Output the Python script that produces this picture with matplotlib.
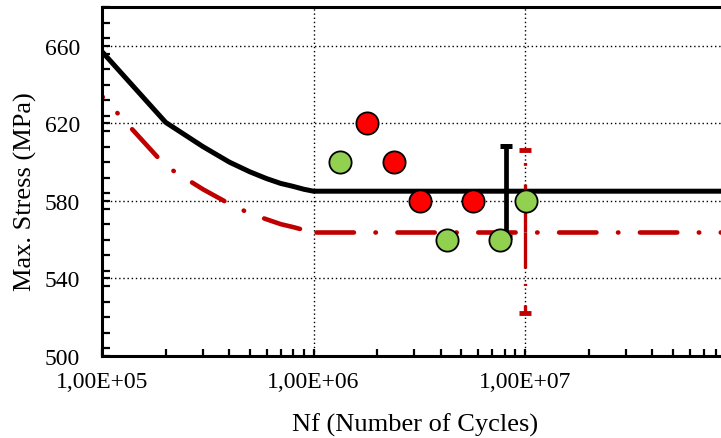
import matplotlib
matplotlib.use("Agg")
import matplotlib.pyplot as plt
from matplotlib.ticker import FixedLocator, FixedFormatter, MultipleLocator, LogLocator, NullFormatter

plt.rcParams['font.family'] = ['Liberation Serif', 'DejaVu Serif']
plt.rcParams['lines.scale_dashes'] = False

# ---- data ----
cycles_curve = [1e5, 2e5, 3e5, 4e5, 5e5, 6e5, 7e5, 8e5, 9e5, 1e6, 1e8]
stress_mean = [657, 620.5, 608, 600, 595, 591.5, 589, 587.5, 586, 585, 585]
stress_design = [634, 598, 586, 578.5, 573.5, 570.5, 568, 566.5, 565, 564, 564]

red_x = [1.79e6, 2.39e6, 3.19e6, 5.68e6]
red_y = [620, 600, 580, 580]
green_x = [1.34e6, 4.26e6, 7.62e6, 1.01e7]
green_y = [600, 560, 560, 580]

black_err_x = 8.1e6
black_err_y = 585
black_err = 23.5
red_err_x = 1e7
red_err_y = 564
red_err = 42

xtick_vals = [1e5, 1e6, 1e7]
xtick_labels = ['1,00E+05', '1,00E+06', '1,00E+07']
yticks = [500, 540, 580, 620, 660]

BLACK = '#000000'
DARKRED = '#C00000'
RED = '#FF0000'
GREEN = '#92D050'

fig = plt.figure(figsize=(7.21, 4.39), dpi=100)
ax = fig.add_axes([102/721, 82/439, 634.5/721, 349/439])

ax.set_xscale('log')
ax.set_xlim(1e5, 1e8)
ax.set_ylim(500, 680)

# curves
ax.plot(cycles_curve, stress_mean, color=BLACK, lw=3.6, zorder=3, solid_capstyle='butt')
knee = stress_design.index(min(stress_design))  # start of flat part
ax.plot(cycles_curve[:knee + 1], stress_design[:knee + 1], color=DARKRED, lw=3.3, zorder=2,
        linestyle=(26.0, (26.9, 15.5, 0.3, 15.5)), dash_capstyle='round')
ax.plot(cycles_curve[knee:], stress_design[knee:], color=DARKRED, lw=3.3, zorder=2,
        linestyle=(-1.5, (26.9, 15.5, 0.3, 15.5)), dash_capstyle='round')

# black error bar
ax.errorbar([black_err_x], [black_err_y], yerr=[black_err], fmt='none', ecolor=BLACK,
            elinewidth=3.4, capsize=4.3, capthick=3.6, zorder=4)

# red dash-dot error bar
ax.plot([red_err_x, red_err_x], [red_err_y, red_err_y + red_err], color=DARKRED,
        lw=2.4, linestyle=(0, (34.5, 13.5, 2.0, 13.0)), dash_capstyle='butt', zorder=4)
ax.plot([red_err_x, red_err_x], [red_err_y, red_err_y - red_err], color=DARKRED,
        lw=2.4, linestyle=(0, (26.0, 11.0, 1.5, 14.0)), dash_capstyle='butt', zorder=4)
ax.plot([red_err_x, red_err_x], [red_err_y + red_err, red_err_y - red_err], ls='none',
        marker='_', ms=9, mew=3.5, color=DARKRED, zorder=4)

# data points
ax.plot(red_x, red_y, 'o', ms=16, mfc=RED, mec=BLACK, mew=1.3, zorder=6, ls='none')
ax.plot(green_x, green_y, 'o', ms=16, mfc=GREEN, mec=BLACK, mew=1.3, zorder=6, ls='none')

# ticks
ax.xaxis.set_major_locator(FixedLocator(xtick_vals))
ax.xaxis.set_major_formatter(FixedFormatter(xtick_labels))
ax.xaxis.set_minor_locator(LogLocator(base=10, subs=range(2, 10), numticks=30))
ax.xaxis.set_minor_formatter(NullFormatter())
ax.yaxis.set_major_locator(FixedLocator(yticks))
ax.yaxis.set_minor_locator(MultipleLocator(8))

ax.tick_params(which='both', direction='in', top=False, right=False, labelsize=17,
               color=BLACK, width=1.6)
ax.tick_params(axis='y', which='both', length=6, pad=16)
ax.tick_params(axis='x', which='both', length=5, pad=11)

ax.grid(True, which='major', color=BLACK, lw=1.0, linestyle=(0, (1, 2)))
ax.set_axisbelow(True)

for side in ('left', 'bottom', 'top'):
    ax.spines[side].set_linewidth(2.2)
    ax.spines[side].set_color(BLACK)
ax.spines['right'].set_visible(False)

ax.set_xlabel('Nf (Number of Cycles)', fontsize=19, va='center')
ax.xaxis.set_label_coords(0.493, -0.197)
ax.set_ylabel('Max. Stress (MPa)', fontsize=19, va='center', ha='center')
ax.yaxis.set_label_coords(-0.12, 0.473)

fig.savefig('out.png', dpi=100)
